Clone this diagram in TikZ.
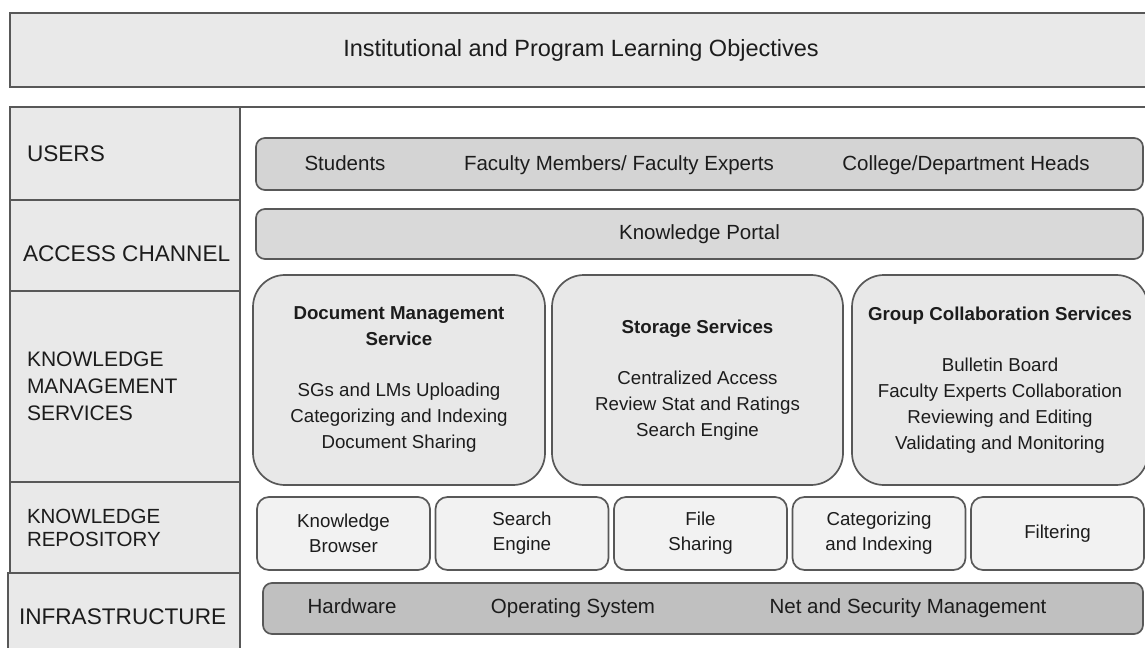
\documentclass[tikz,border=0pt]{standalone}
\usepackage{fontspec}
\setmainfont{Liberation Sans}
\usetikzlibrary{positioning}
\definecolor{edgegray}{RGB}{88,88,88}
\definecolor{panelgray}{RGB}{233,233,233}
\definecolor{bargray}{RGB}{212,212,212}
\definecolor{portalgray}{RGB}{217,217,217}
\definecolor{servgray}{RGB}{232,232,232}
\definecolor{repogray}{RGB}{242,242,242}
\definecolor{infragray}{RGB}{192,192,192}
\definecolor{inkgray}{RGB}{28,28,28}

\begin{document}
\begin{tikzpicture}[
  x=1bp, y=-1bp,
  text=inkgray,
  every node/.append style={inner sep=0pt, outer sep=0pt},
  panel/.style={draw=edgegray, line width=1.7bp, fill=panelgray},
  layer/.style={panel, minimum width=230bp},
  layername/.style={anchor=west, align=left, font=\fontsize{22.6bp}{27bp}\selectfont},
  bar/.style={draw=edgegray, line width=1.7bp, rounded corners=9bp, minimum width=887bp,
              minimum height=52bp, font=\fontsize{20.5bp}{25bp}\selectfont},
  bartext/.style={font=\fontsize{20.5bp}{25bp}\selectfont, text height=15bp, text depth=4bp},
  service/.style={draw=edgegray, line width=1.7bp, rounded corners=32bp, fill=servgray,
                  minimum height=210bp, align=center, font=\fontsize{18.7bp}{26bp}\selectfont},
  repo/.style={draw=edgegray, line width=1.7bp, rounded corners=12bp, fill=repogray,
               minimum width=173bp, minimum height=73bp, align=center,
               font=\fontsize{18.7bp}{25bp}\selectfont},
  node distance=5.5bp,
]
\useasboundingbox (0,0) rectangle (1145,648);

% ---- objectives banner across the top ----
\node[panel, minimum width=1142bp, minimum height=74bp, font=\fontsize{23.5bp}{28bp}\selectfont]
  (objectives) at (581,50) {Institutional and Program Learning Objectives};

% ---- layer column on the left ----
\node[layer, minimum height=93bp, anchor=north west] (users) at (10,107) {};
\node[layer, minimum height=91bp, below=0pt of users] (access) {};
\node[layer, minimum height=191bp, below=0pt of access] (kms) {};
\node[layer, minimum height=91bp, below=0pt of kms] (repository) {};
\node[layer, minimum width=232bp, minimum height=80bp, below=0pt of repository, xshift=-1bp] (infra) {};

\node[layername] at ([xshift=17bp]users.west) {USERS};
\node[layername] at ([xshift=13bp,yshift=-8bp]access.west) {ACCESS CHANNEL};
\node[layername, font=\fontsize{21bp}{27bp}\selectfont] at ([xshift=17bp]kms.west)
  {KNOWLEDGE\\MANAGEMENT\\SERVICES};
\node[layername, font=\fontsize{20.5bp}{23bp}\selectfont] at ([xshift=17bp]repository.west)
  {KNOWLEDGE\\REPOSITORY};
\node[layername] at ([xshift=11bp,yshift=-4bp]infra.west) {INFRASTRUCTURE};

% frame line over the content area
\draw[edgegray, line width=1.7bp] (users.north east) -- (1150,107);

% ---- users and access channel ----
\node[bar, fill=bargray, anchor=north west] (userbar) at (256,138) {};
\node[bartext] (students) at (345,165) {Students};
\node[bartext] (faculty) at (619,165) {Faculty Members/ Faculty Experts};
\node[bartext] (heads) at (966,165) {College/Department Heads};

\node[bar, fill=portalgray, minimum height=50bp, below=19bp of userbar] (portal) {Knowledge Portal};

% ---- knowledge management services ----
\node[service, minimum width=292bp, anchor=north west] (docservice) at (253,275)
  {\textbf{Document Management}\\\textbf{Service}\\[25bp]
   SGs and LMs Uploading\\Categorizing and Indexing\\Document Sharing};
\node[service, minimum width=291bp, right=7bp of docservice] (storage)
  {\textbf{Storage Services}\\[25bp]
   Centralized Access\\Review Stat and Ratings\\Search Engine};
\node[service, minimum width=296bp, right=9bp of storage] (groupcollab)
  {\textbf{Group Collaboration Services}\\[25bp]
   Bulletin Board\\Faculty Experts Collaboration\\Reviewing and Editing\\Validating and Monitoring};

% ---- knowledge repository ----
\node[repo, anchor=north west] (browser) at (257,497) {Knowledge\\Browser};
\node[repo, right=of browser] (searcheng) {Search\\Engine};
\node[repo, right=of searcheng] (filesharing) {File\\Sharing};
\node[repo, right=of filesharing] (catindex) {Categorizing\\and Indexing};
\node[repo, right=of catindex] (filtering) {Filtering};

% ---- infrastructure ----
\node[bar, fill=infragray, minimum width=880bp, minimum height=51bp, anchor=north west]
  (infrabar) at (263,583) {};
\node[bartext] (hardware) at (352,608) {Hardware};
\node[bartext] (opsys) at (573,608) {Operating System};
\node[bartext] (netsec) at (908,608) {Net and Security Management};

\end{tikzpicture}
\end{document}
